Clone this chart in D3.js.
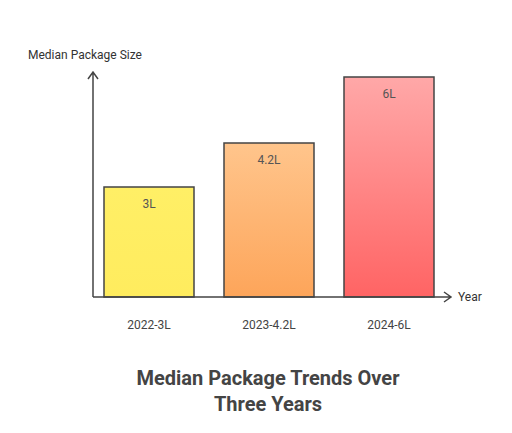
<!DOCTYPE html>
<html><head><meta charset="utf-8">
<script src="https://cdn.jsdelivr.net/npm/d3@7"></script>
<style>body{margin:0;background:#fff}svg{display:block;font-family:Roboto,sans-serif}</style>
</head><body><svg id="chart"></svg>
<script>
// chart data
var categories = ["2022-3L", "2023-4.2L", "2024-6L"]
var values = [3, 4.2, 6]
var barLabels = ["3L", "4.2L", "6L"]
var colorTop = ["#ffef66", "#ffc58c", "#ffa8a8"]
var colorBottom = ["#ffec5e", "#fda55a", "#ff6464"]

var svg = d3.select("#chart").attr("width", 512).attr("height", 433)

var x = d3.scaleBand().domain(categories).range([104, 434]).paddingInner(0.25).paddingOuter(0.0)
var y = d3.scaleLinear().domain([0, 6]).range([297, 77])

var defs = svg.append("defs")
categories.forEach(function(c, i){
    var g = defs.append("linearGradient").attr("id", "g" + i)
        .attr("x1", 0).attr("y1", 0).attr("x2", 0).attr("y2", 1)
    g.append("stop").attr("offset", "0%").attr("stop-color", colorTop[i])
    g.append("stop").attr("offset", "100%").attr("stop-color", colorBottom[i])
})

svg.selectAll("rect.bar").data(values).join("rect")
    .attr("class", "bar")
    .attr("x", (d, i) => x(categories[i]))
    .attr("y", d => y(d))
    .attr("width", x.bandwidth())
    .attr("height", d => y(0) - y(d))
    .attr("fill", (d, i) => "url(#g" + i + ")")
    .attr("stroke", "#444").attr("stroke-width", 1.5)

svg.selectAll("text.val").data(values).join("text")
    .attr("x", (d, i) => x(categories[i]) + x.bandwidth() / 2)
    .attr("y", d => y(d) + 21)
    .attr("text-anchor", "middle").attr("font-size", 12).attr("fill", "#555")
    .text((d, i) => barLabels[i])

svg.selectAll("text.cat").data(categories).join("text")
    .attr("x", d => x(d) + x.bandwidth() / 2)
    .attr("y", 329)
    .attr("text-anchor", "middle").attr("font-size", 12).attr("fill", "#444")
    .text(d => d)

// axes
var ax = svg.append("g").attr("stroke", "#444").attr("stroke-width", 1.5).attr("fill", "none")
ax.append("path").attr("d", "M93,297V72 M88,79L93,72L98,79")
ax.append("path").attr("d", "M93,297H451 M444,292L451,297L444,302")

svg.append("text").attr("x", 28).attr("y", 59).attr("font-size", 12).attr("fill", "#333").text("Median Package Size")
svg.append("text").attr("x", 458).attr("y", 301).attr("font-size", 12).attr("fill", "#333").text("Year")

svg.append("text").attr("x", 268).attr("y", 385).attr("text-anchor", "middle")
    .attr("font-size", 20).attr("font-weight", "bold").attr("fill", "#444").text("Median Package Trends Over")
svg.append("text").attr("x", 268).attr("y", 411).attr("text-anchor", "middle")
    .attr("font-size", 20).attr("font-weight", "bold").attr("fill", "#444").text("Three Years")
</script></body></html>
